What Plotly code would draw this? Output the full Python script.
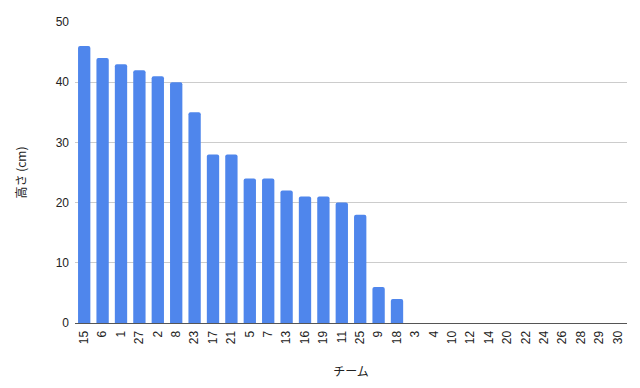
import plotly.graph_objects as go

teams = ["15", "6", "1", "27", "2", "8", "23", "17", "21", "5", "7", "13", "16", "19", "11",
         "25", "9", "18", "3", "4", "10", "12", "14", "20", "22", "24", "26", "28", "29", "30"]
heights = [46, 44, 43, 42, 41, 40, 35, 28, 28, 24, 24, 22, 21, 21, 20,
           18, 6, 4, 0, 0, 0, 0, 0, 0, 0, 0, 0, 0, 0, 0]

fig = go.Figure(go.Bar(x=teams, y=heights, marker=dict(color="#4f86ec", line=dict(width=0))))

tick_font = dict(family="Liberation Sans, Arial, sans-serif", size=12, color="#222222")
title_font = dict(family="Noto Sans CJK JP, sans-serif", size=12, color="#222222")

fig.update_layout(
    width=640, height=388,
    margin=dict(l=75, r=13, t=22, b=65),
    paper_bgcolor="white", plot_bgcolor="white",
    bargap=0.33,
    barcornerradius=2,
    showlegend=False,
    xaxis=dict(
        type="category", tickangle=-90, tickfont=tick_font,
        showgrid=False, showline=True, linecolor="#555555", linewidth=1,
        ticks="", ticklabelstandoff=2,
        title=dict(text="チーム", font=title_font, standoff=24),
    ),
    yaxis=dict(
        range=[0, 50], dtick=10, showgrid=True, gridcolor="#cccccc", gridwidth=1,
        zeroline=False, ticks="", tickfont=tick_font, ticklabelstandoff=5,
        title=dict(text="高さ (cm)", font=title_font, standoff=26),
    ),
)

fig.write_html("out.html")
